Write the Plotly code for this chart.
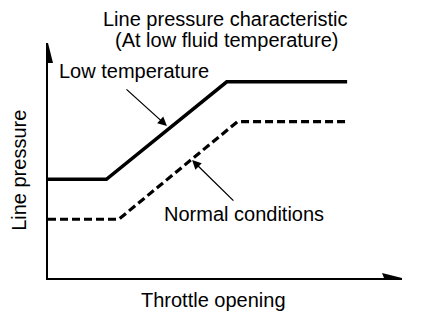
import plotly.graph_objects as go

# Line pressure vs throttle opening (relative units, 0-100)
low_temp_throttle = [0, 16.5, 50.5, 84.5]
low_temp_pressure = [42, 42, 83.5, 83.5]

normal_throttle = [0, 20, 53.5, 84.5]
normal_pressure = [25, 25, 66.5, 66.5]

title_lines = ["Line pressure characteristic", "(At low fluid temperature)"]
x_title = "Throttle opening"
y_title = "Line pressure"
low_label = "Low temperature"
normal_label = "Normal conditions"

FONT = dict(family="Liberation Sans, Arial, Helvetica, sans-serif", size=20, color="black")

fig = go.Figure()

fig.add_trace(go.Scatter(
    x=low_temp_throttle, y=low_temp_pressure, mode="lines",
    line=dict(color="black", width=3.5), hoverinfo="skip", showlegend=False,
))
fig.add_trace(go.Scatter(
    x=normal_throttle, y=normal_pressure, mode="lines",
    line=dict(color="black", width=3.2, dash="8px,4px"), hoverinfo="skip", showlegend=False,
))

# text placed relative to the plot area (paper units)
annotations = [
    dict(x=0.501, y=1.102, text=title_lines[0]),
    dict(x=0.504, y=1.011, text=title_lines[1]),
    dict(x=0.243, y=0.881, text=low_label),
    dict(x=0.554, y=0.272, text=normal_label),
    dict(x=0.468, y=-0.094, text=x_title),
    dict(x=-0.082, y=0.46, text=y_title, textangle=-90),
]
for a in annotations:
    a.update(xref="paper", yref="paper", xanchor="center", yanchor="middle",
             showarrow=False, font=FONT)

# pointer arrows from the labels to the curves
annotations += [
    dict(x=33.6, y=64.7, ax=21.75, ay=80.85),
    dict(x=40.7, y=50.2, ax=52.8, ay=32.3),
]
for a in annotations[-2:]:
    a.update(xref="x", yref="y", axref="x", ayref="y", text="", showarrow=True,
             arrowhead=2, arrowsize=1.4, arrowwidth=1.3, arrowcolor="black")

# axis arrowheads, sized in pixels at the axis ends
shapes = [
    dict(type="path", xref="x", yref="y", xsizemode="pixel", ysizemode="pixel",
         xanchor=0, yanchor=100, path="M0,0 L-5,-20 L5,-20 Z",
         fillcolor="black", line=dict(width=0)),
    dict(type="path", xref="x", yref="y", xsizemode="pixel", ysizemode="pixel",
         xanchor=100, yanchor=0, path="M0,0 L-20,5 L-18,0 L-20,-5 Z",
         fillcolor="black", line=dict(width=0)),
]

axis_common = dict(showgrid=False, zeroline=False, showticklabels=False, ticks="",
                   showline=True, linecolor="black", linewidth=2, fixedrange=True)

fig.update_layout(
    width=432, height=326,
    margin=dict(l=48, r=30, t=43, b=48),
    paper_bgcolor="white", plot_bgcolor="white",
    xaxis=dict(range=[0, 100], **axis_common),
    yaxis=dict(range=[0, 100], **axis_common),
    annotations=annotations,
    shapes=shapes,
    font=FONT,
)

fig.write_html("out.html", config={"displayModeBar": False})
